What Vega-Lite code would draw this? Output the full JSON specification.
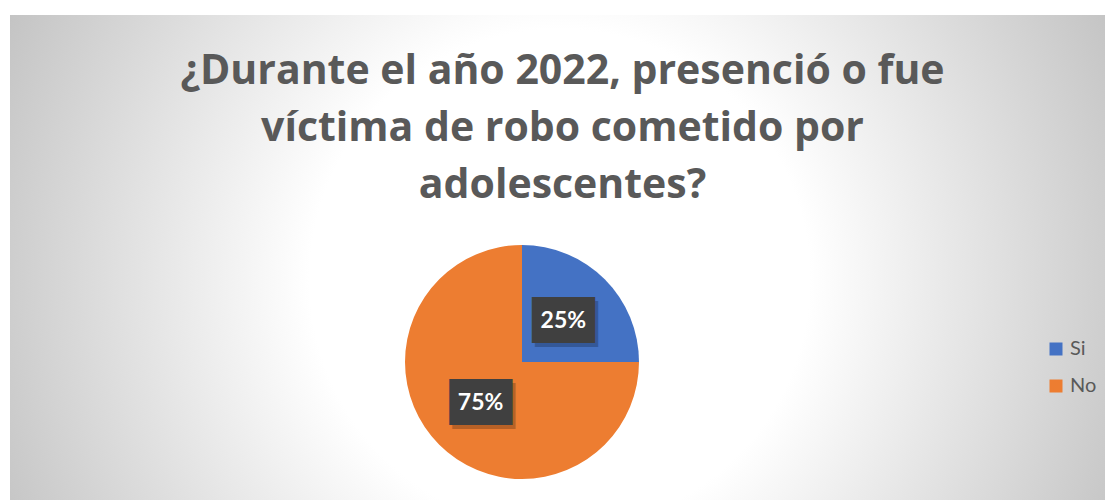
{
  "$schema": "https://vega.github.io/schema/vega-lite/v6.json",
  "width": 1095,
  "height": 485,
  "autosize": {"type": "none"},
  "padding": {"left": 10, "top": 15, "right": 0, "bottom": 0},
  "background": "#ffffff",
  "view": {
    "stroke": null,
    "fill": {
      "gradient": "radial",
      "x1": 0.502, "y1": 0.52, "r1": 0,
      "x2": 0.502, "y2": 0.52, "r2": 0.557,
      "stops": [
        {"offset": 0, "color": "#ffffff"},
        {"offset": 0.41, "color": "#ffffff"},
        {"offset": 0.6, "color": "#ececec"},
        {"offset": 0.8, "color": "#d8d8d8"},
        {"offset": 1, "color": "#c4c4c4"}
      ]
    }
  },
  "data": {"values": [
    {"respuesta": "Si", "valor": 0.25},
    {"respuesta": "No", "valor": 0.75}
  ]},
  "title": {
    "text": ["¿Durante el año 2022, presenció o fue", "víctima de robo cometido por", "adolescentes?"],
    "orient": "top",
    "anchor": "middle",
    "frame": "group",
    "offset": -192,
    "dx": 5,
    "font": "Open Sans",
    "fontWeight": "bold",
    "fontSize": 41,
    "lineHeight": 57,
    "color": "#595959"
  },
  "encoding": {
    "theta": {"field": "valor", "type": "quantitative", "stack": true},
    "order": {"field": "valor", "type": "quantitative", "sort": "ascending"}
  },
  "layer": [
    {
      "mark": {"type": "arc", "radius": 117, "xOffset": -35.5, "yOffset": 104.5},
      "encoding": {
        "color": {
          "field": "respuesta",
          "type": "nominal",
          "scale": {"domain": ["Si", "No"], "range": ["#4472C4", "#ED7D31"]},
          "legend": {
            "title": null,
            "orient": "none",
            "legendX": 1036,
            "legendY": 324,
            "direction": "vertical",
            "symbolType": "square",
            "symbolSize": 169,
            "symbolStrokeWidth": 0,
            "labelFont": "Lato",
            "labelFontSize": 20,
            "labelColor": "#595959",
            "labelOffset": 4,
            "rowPadding": 17,
            "padding": 0
          }
        }
      }
    },
    {
      "mark": {"type": "text", "radius": 58.5, "xOffset": -35.5, "yOffset": 104.5, "dx": 3, "dy": 4,
               "font": "DejaVu Sans Mono", "fontSize": 27, "baseline": "middle", "align": "center",
               "stroke": "#000000", "strokeWidth": 14, "strokeJoin": "miter", "fill": "#000000", "opacity": 0.22},
      "encoding": {"text": {"value": "███"}}
    },
    {
      "mark": {"type": "text", "radius": 58.5, "xOffset": -35.5, "yOffset": 104.5,
               "font": "DejaVu Sans Mono", "fontSize": 27, "baseline": "middle", "align": "center",
               "stroke": "#404040", "strokeWidth": 14, "strokeJoin": "miter", "fill": "#404040"},
      "encoding": {"text": {"value": "███"}}
    },
    {
      "mark": {"type": "text", "radius": 58.5, "xOffset": -35.5, "yOffset": 104.5,
               "font": "Lato", "fontWeight": "bold", "fontSize": 23, "baseline": "middle", "align": "center",
               "fill": "#ffffff"},
      "encoding": {"text": {"field": "valor", "type": "quantitative", "format": ".0%"}}
    }
  ]
}
